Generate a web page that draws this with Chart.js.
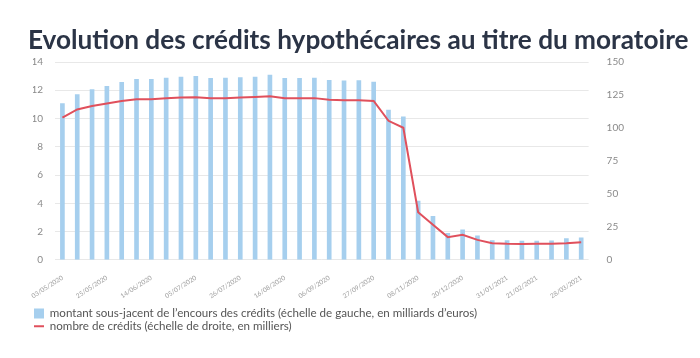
<!DOCTYPE html>
<html lang="fr">
<head>
    <meta charset="UTF-8">
    <title>Evolution des crédits hypothécaires au titre du moratoire</title>
    <script src="https://cdn.jsdelivr.net/npm/chart.js"></script>
    <style>
        html, body { margin: 0; padding: 0; background: #fff; }
        #wrap { width: 700px; height: 358px; position: relative; }
        #titre {
            position: absolute; left: 28px; top: 23px; margin: 0;
            font: bold 26.2px Lato, "Open Sans", sans-serif; color: #2b3446;
            white-space: nowrap;
        }
    </style>
</head>
<body>
    <div id="wrap">
        <h1 id="titre">Evolution des crédits hypothécaires au titre du moratoire</h1>
        <canvas id="moratoire"></canvas>
    </div>
    <script>
        // one bar per reporting date, only some dates are printed on the axis
        const dates = [
            '03/05/2020', '', '', '25/05/2020', '', '', '14/06/2020', '', '', '05/07/2020', '', '',
            '26/07/2020', '', '', '16/08/2020', '', '', '06/09/2020', '', '', '27/09/2020', '', '',
            '08/11/2020', '', '', '20/12/2020', '', '', '31/01/2021', '', '21/02/2021', '', '', '28/03/2021'
        ];
        // montant sous-jacent, milliards d'euros (left scale)
        const montant = [
            11.06, 11.7, 12.05, 12.28, 12.56, 12.77, 12.77, 12.87, 12.94, 12.98, 12.84, 12.87,
            12.9, 12.94, 13.08, 12.84, 12.84, 12.87, 12.7, 12.66, 12.68, 12.58, 10.59, 10.12,
            4.16, 3.08, 1.88, 2.12, 1.69, 1.36, 1.36, 1.32, 1.32, 1.34, 1.5, 1.55
        ];
        // nombre de crédits, milliers (right scale)
        const nombre = [
            107.9, 114, 116.7, 118.5, 120.5, 121.8, 121.8, 122.5, 123, 123.3, 122.5, 122.5,
            123, 123.5, 124, 122.5, 122.6, 122.6, 121.3, 121, 121, 120.5, 105.4, 100.1,
            36.1, 26.5, 17.2, 18.9, 15.1, 12.6, 12.1, 12, 12.1, 12.1, 12.6, 13.4
        ];
        const leftTicks = [0, 2, 4, 6, 8, 10, 12, 14];
        const rightTicks = [0, 25, 50, 75, 100, 125, 150];

        const tickColor = '#8a8a8a';
        const fontFam = 'Lato, "Open Sans", sans-serif';

        new Chart(document.getElementById('moratoire'), {
            data: {
                labels: dates,
                datasets: [
                    {
                        type: 'line',
                        label: 'nombre de crédits (échelle de droite, en milliers)',
                        data: nombre,
                        yAxisID: 'yRight',
                        borderColor: '#e0505c',
                        backgroundColor: '#e0505c',
                        borderWidth: 2,
                        pointRadius: 0,
                        tension: 0,
                        pointStyle: 'line',
                        order: 1
                    },
                    {
                        type: 'bar',
                        label: 'montant sous-jacent de l\u2019encours des crédits (échelle de gauche, en milliards d\u2019euros)',
                        data: montant,
                        yAxisID: 'yLeft',
                        backgroundColor: '#a6cfee',
                        barThickness: 4,
                        pointStyle: 'rect',
                        order: 2
                    }
                ]
            },
            options: {
                responsive: true,
                maintainAspectRatio: false,
                animation: false,
                layout: { padding: { left: 33, right: 66, top: 62, bottom: 16 } },
                scales: {
                    x: {
                        grid: { display: false },
                        border: { display: false },
                        // rotated dates may hang under the left axis, like in the original
                        afterFit: axis => { axis.paddingLeft = 0; axis.height = 47; },
                        ticks: {
                            autoSkip: false,
                            minRotation: 33,
                            maxRotation: 33,
                            color: '#a0a0a0',
                            font: { family: fontFam, size: 6.5 },
                            padding: 6
                        }
                    },
                    yLeft: {
                        position: 'left',
                        min: 0,
                        max: 14,
                        afterBuildTicks: axis => { axis.ticks = leftTicks.map(v => ({ value: v })); },
                        afterFit: axis => { axis.width = 22; },
                        grid: { color: '#e8e8e8', drawTicks: false },
                        border: { display: false },
                        ticks: { color: tickColor, font: { family: fontFam, size: 10 }, padding: 12 }
                    },
                    yRight: {
                        position: 'right',
                        min: 0,
                        max: 150,
                        afterBuildTicks: axis => { axis.ticks = rightTicks.map(v => ({ value: v })); },
                        grid: { display: false },
                        border: { display: false },
                        ticks: { color: tickColor, font: { family: fontFam, size: 10 }, padding: 10 }
                    }
                },
                plugins: {
                    legend: {
                        position: 'bottom',
                        align: 'start',
                        reverse: true,
                        labels: {
                            usePointStyle: true,
                            pointStyleWidth: 10,
                            boxHeight: 10,
                            color: '#555',
                            padding: 1,
                            font: { family: fontFam, size: 11.6 }
                        }
                    },
                    tooltip: { enabled: false }
                }
            }
        });
    </script>
</body>
</html>
